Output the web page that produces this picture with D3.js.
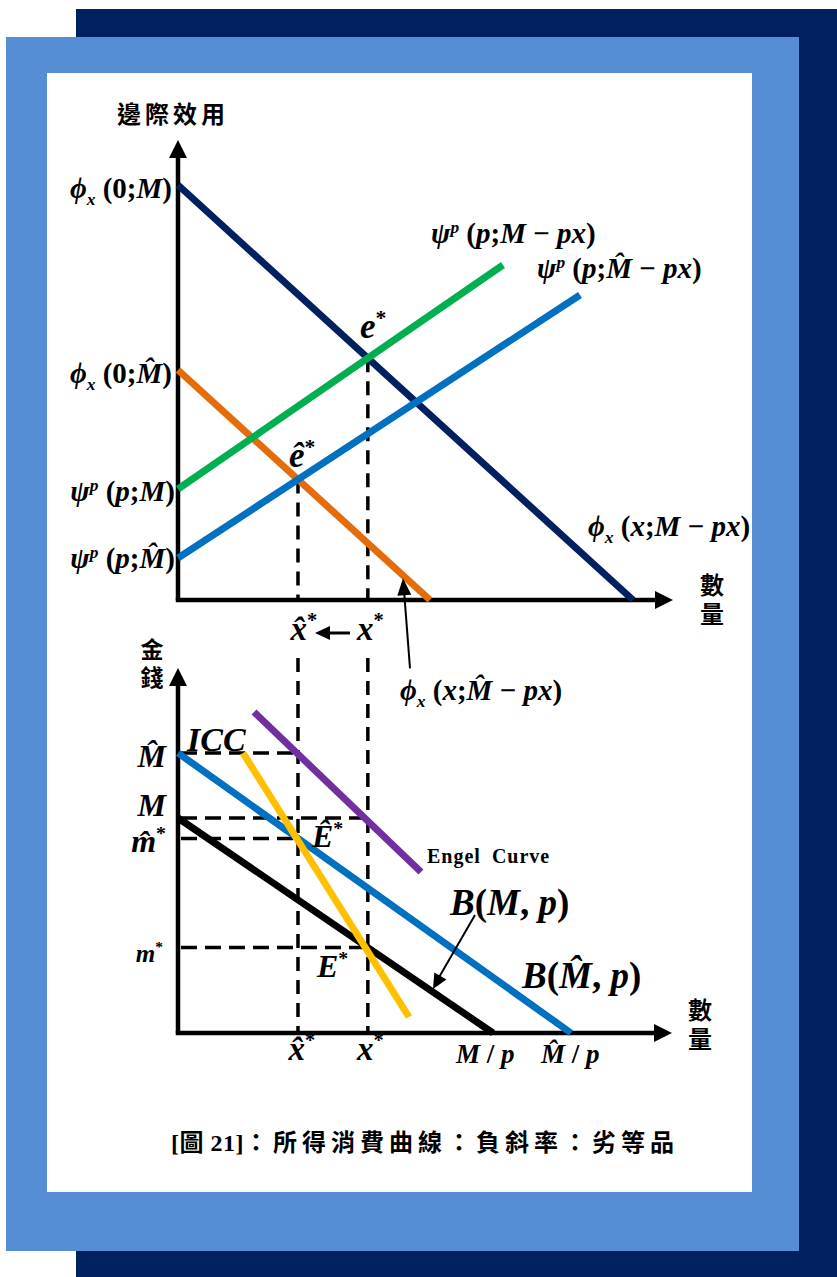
<!DOCTYPE html>
<html>
<head>
<meta charset="utf-8">
<script src="https://cdn.jsdelivr.net/npm/d3@7"></script>
<style>
  html, body { margin: 0; padding: 0; background: #ffffff; }
  svg { display: block; }
</style>
</head>
<body>
<svg id="fig" width="837" height="1277"></svg>
<script>
// ---- Upper panel: marginal utility curves (quantity units, utility units) ----
const topCurveIds   = ["phiM", "phiMhat", "psiM", "psiMhat"];
const topCurveStart = [[0, 83], [0, 46], [0, 22.2], [0, 8.4]];
const topCurveEnd   = [[91, 0], [50.4, 0], [65, 67], [80.4, 61]];

// ---- Lower panel: budget lines, ICC and Engel curve (quantity units, money units) ----
const botCurveIds   = ["budgetM", "budgetMhat", "icc", "engel"];
const botCurveStart = [[0, 43], [0, 56], [13, 56], [15.2, 64.2]];
const botCurveEnd   = [[63, 0], [78.6, 0], [46.2, 3.2], [48.6, 32.2]];

// axis extents (data units)
const topAxisMax = { x: 99, y: 92 };
const botAxisMax = { x: 98.8, y: 73 };

// texts
const captionNumber = "[圖 21]";
const captionText = "：所得消費曲線：負斜率：劣等品";
const topYTitle = "邊際效用";
const qtyTitle = "數量";
const moneyTitle = "金錢";

const COLORS = {
  phiM: "#002060", phiMhat: "#E46C0A", psiM: "#00B050", psiMhat: "#0070C0",
  budgetM: "#000000", budgetMhat: "#0070C0", icc: "#FFC000", engel: "#7030A0"
};

const svg = d3.select("#fig");
const SERIF = "'Liberation Serif', 'Times New Roman', 'DejaVu Serif', serif";
const CJK = "'Noto Sans CJK TC', 'Noto Sans CJK SC', sans-serif";

// ---- frame ----
svg.append("rect").attr("x", 76).attr("y", 9).attr("width", 761).attr("height", 1268).attr("fill", "#002060");
svg.append("rect").attr("x", 6).attr("y", 37).attr("width", 793).attr("height", 1214).attr("fill", "#558ED5");
svg.append("rect").attr("x", 47).attr("y", 73).attr("width", 705).attr("height", 1119).attr("fill", "#ffffff");

// ---- scales ----
const x = d3.scaleLinear().domain([0, 100]).range([178, 678]);
const yTop = d3.scaleLinear().domain([0, 100]).range([600, 100]);
const yBot = d3.scaleLinear().domain([0, 100]).range([1033, 533]);

const line = (ys) => d3.line().x(d => x(d[0])).y(d => ys(d[1]));

function lineAt(p0, p1, xv) {
  return p0[1] + (p1[1] - p0[1]) * (xv - p0[0]) / (p1[0] - p0[0]);
}
function intersect(a0, a1, b0, b1) {
  const ma = (a1[1] - a0[1]) / (a1[0] - a0[0]);
  const mb = (b1[1] - b0[1]) / (b1[0] - b0[0]);
  const ca = a0[1] - ma * a0[0];
  const cb = b0[1] - mb * b0[0];
  const xi = (cb - ca) / (ma - mb);
  return [xi, ca + ma * xi];
}

function arrowHead(g, tip, dir, len, hw, color) {
  const n = Math.hypot(dir[0], dir[1]);
  const ux = dir[0] / n, uy = dir[1] / n;
  const bx = tip[0] - ux * len, by = tip[1] - uy * len;
  const px = -uy * hw, py = ux * hw;
  g.append("path")
    .attr("d", `M${tip[0]},${tip[1]}L${bx + px},${by + py}L${bx - px},${by - py}Z`)
    .attr("fill", color || "#000");
}

function drawAxes(ys, max) {
  const g = svg.append("g");
  g.append("line").attr("x1", x(0)).attr("y1", ys(0)).attr("x2", x(0)).attr("y2", ys(max.y) + 16)
    .attr("stroke", "#000").attr("stroke-width", 4.5);
  arrowHead(g, [x(0), ys(max.y)], [0, -1], 18, 9);
  g.append("line").attr("x1", x(0) - 2.25).attr("y1", ys(0)).attr("x2", x(max.x) - 16).attr("y2", ys(0))
    .attr("stroke", "#000").attr("stroke-width", 4.5);
  arrowHead(g, [x(max.x), ys(0)], [1, 0], 18, 9);
}

// rich text: parts = [text, style] with style 'i' italic, 'r' upright, 'sub', 'sup', 'supi'
function rich(x0, y0, parts, size, anchor) {
  const t = svg.append("text").attr("x", x0).attr("y", y0)
    .attr("font-family", SERIF).attr("font-weight", "bold")
    .attr("font-size", size).attr("text-anchor", anchor || "start").attr("fill", "#000");
  let shift = 0;
  parts.forEach(([s, st]) => {
    const ts = t.append("tspan").text(s);
    let target = 0, fs = size, style = "italic";
    if (st === "r") style = "normal";
    if (st === "sub") { target = size * 0.25; fs = size * 0.6; }
    if (st === "sup") { target = -size * 0.38; fs = size * 0.62; style = "normal"; }
    if (st === "supi") { target = -size * 0.36; fs = size * 0.6; }
    ts.attr("font-style", style).attr("font-size", fs);
    if (Math.abs(target - shift) > 0.01) { ts.attr("dy", target - shift); shift = target; }
  });
  return t;
}

function cjk(x0, y0, s, size, anchor, spacing) {
  return svg.append("text").attr("x", x0).attr("y", y0)
    .attr("font-family", CJK).attr("font-weight", "bold").attr("font-size", size)
    .attr("letter-spacing", spacing || 0)
    .attr("text-anchor", anchor || "middle").attr("fill", "#000").text(s);
}
// vertical two-character axis title, centred at (cx, cy)
function cjkVertical(cx, cy, s, size, spacing) {
  return svg.append("text").attr("x", cx).attr("y", cy)
    .attr("font-family", CJK).attr("font-weight", "bold").attr("font-size", size)
    .attr("writing-mode", "vertical-rl").style("writing-mode", "vertical-rl")
    .attr("letter-spacing", spacing || 0)
    .attr("text-anchor", "middle").attr("fill", "#000").text(s);
}

// ---- key points ----
const eStar = intersect(topCurveStart[0], topCurveEnd[0], topCurveStart[2], topCurveEnd[2]);
const eHatStar = intersect(topCurveStart[1], topCurveEnd[1], topCurveStart[3], topCurveEnd[3]);
const xStar = eStar[0], xHatStar = eHatStar[0];
const mStar = lineAt(botCurveStart[0], botCurveEnd[0], xStar);
const mHatStar = lineAt(botCurveStart[1], botCurveEnd[1], xHatStar);
const incomeM = botCurveStart[0][1], incomeMhat = botCurveStart[1][1];

const dashStyle = (sel) => sel.attr("stroke", "#000").attr("stroke-width", 3.5).attr("stroke-dasharray", "14,9");

// ---- dashed guides ----
const guides = svg.append("g");
[[eStar, xStar], [eHatStar, xHatStar]].forEach(([pt, xv]) => {
  guides.append("line").attr("x1", x(xv)).attr("x2", x(xv)).attr("y1", yTop(pt[1])).attr("y2", yTop(0)).call(dashStyle);
  guides.append("line").attr("x1", x(xv)).attr("x2", x(xv)).attr("y1", yBot(75)).attr("y2", yBot(0)).call(dashStyle);
});
[[incomeMhat, xHatStar], [incomeM, xStar], [mHatStar, xHatStar], [mStar, xStar]].forEach(([lv, xv]) => {
  guides.append("line").attr("x1", x(0) + 3).attr("x2", x(xv)).attr("y1", yBot(lv)).attr("y2", yBot(lv))
    .attr("stroke", "#000").attr("stroke-width", 3.5).attr("stroke-dasharray", "16,8");
});

// ---- axes ----
drawAxes(yTop, topAxisMax);
drawAxes(yBot, botAxisMax);

// ---- curves ----
topCurveIds.forEach((id, i) => {
  svg.append("path").datum([topCurveStart[i], topCurveEnd[i]]).attr("d", line(yTop))
    .attr("fill", "none").attr("stroke", COLORS[id]).attr("stroke-width", 7);
});
botCurveIds.forEach((id, i) => {
  svg.append("path").datum([botCurveStart[i], botCurveEnd[i]]).attr("d", line(yBot))
    .attr("fill", "none").attr("stroke", COLORS[id]).attr("stroke-width", 7);
});

// ---- pointer arrows ----
{
  const tipX = 45;
  const tip = [x(tipX), yTop(lineAt(topCurveStart[1], topCurveEnd[1], tipX)) + 3];
  const tail = [tip[0] + 7, tip[1] + 90];
  svg.append("line").attr("x1", tail[0]).attr("y1", tail[1]).attr("x2", tip[0] + 1).attr("y2", tip[1] + 12)
    .attr("stroke", "#000").attr("stroke-width", 2);
  arrowHead(svg, tip, [tip[0] - tail[0], tip[1] - tail[1]], 17, 7);
}
{
  const tipX = 51;
  const tip = [x(tipX), yBot(lineAt(botCurveStart[0], botCurveEnd[0], tipX)) - 3];
  const tail = [tip[0] + 42, tip[1] - 74];
  svg.append("line").attr("x1", tail[0]).attr("y1", tail[1]).attr("x2", tip[0] + 5).attr("y2", tip[1] - 10)
    .attr("stroke", "#000").attr("stroke-width", 2);
  arrowHead(svg, tip, [tip[0] - tail[0], tip[1] - tail[1]], 15, 7);
}
// x* -> x̂* shift arrow
svg.append("line").attr("x1", 350).attr("y1", 633).attr("x2", 328).attr("y2", 633).attr("stroke", "#000").attr("stroke-width", 3);
arrowHead(svg, [315, 633], [-1, 0], 15, 7);

// ---- upper panel labels ----
cjk(173, 123, topYTitle, 24, "middle", 4);
const MH = "M\u0302";
const PHI = "\u03D5";
const LS = 29;
rich(172, yTop(topCurveStart[0][1]) + 13, [[PHI, "i"], ["x", "sub"], [" (", "r"], ["0;", "r"], ["M", "i"], [")", "r"]], LS, "end");
rich(172, yTop(topCurveStart[1][1]) + 13, [[PHI, "i"], ["x", "sub"], [" (", "r"], ["0;", "r"], [MH, "i"], [")", "r"]], LS, "end");
rich(175, yTop(topCurveStart[2][1]) + 12, [["ψ", "i"], ["p", "supi"], ["  (", "r"], ["p", "i"], [";", "r"], ["M", "i"], [")", "r"]], LS, "end");
rich(175, yTop(topCurveStart[3][1]) + 10, [["ψ", "i"], ["p", "supi"], ["  (", "r"], ["p", "i"], [";", "r"], [MH, "i"], [")", "r"]], LS, "end");
rich(431, 243, [["ψ", "i"], ["p", "supi"], [" (", "r"], ["p", "i"], [";", "r"], ["M", "i"], [" − ", "r"], ["px", "i"], [")", "r"]], LS);
rich(537, 278, [["ψ", "i"], ["p", "supi"], [" (", "r"], ["p", "i"], [";", "r"], [MH, "i"], [" − ", "r"], ["px", "i"], [")", "r"]], LS);
rich(588, 536, [[PHI, "i"], ["x", "sub"], [" (", "r"], ["x", "i"], [";", "r"], ["M", "i"], [" − ", "r"], ["px", "i"], [")", "r"]], LS);
rich(400, 700, [[PHI, "i"], ["x", "sub"], [" (", "r"], ["x", "i"], [";", "r"], [MH, "i"], [" − ", "r"], ["px", "i"], [")", "r"]], LS);
rich(360, 338, [["e", "i"], ["*", "sup"]], 35);
rich(289, 467, [["ê", "i"], ["*", "sup"]], 35);
cjkVertical(712, 602, qtyTitle, 24, 5);
rich(x(xHatStar) + 6, 640, [["x\u0302", "i"], ["*", "sup"]], 33, "middle");
rich(357, 640, [["x", "i"], ["*", "sup"]], 33);

// ---- lower panel labels ----
cjkVertical(152, 666, moneyTitle, 23, 5);
rich(166, yBot(incomeMhat) + 14, [[MH, "i"]], 32, "end");
rich(166, yBot(incomeM) - 2, [["M", "i"]], 32, "end");
rich(166, yBot(mHatStar) + 14, [["m\u0302", "i"], ["*", "sup"]], 32, "end");
rich(163, yBot(mStar) + 14, [["m", "i"], ["*", "sup"]], 25, "end");
rich(187, 751, [["ICC", "i"]], 34);
rich(312, 847, [["Ê", "i"], ["*", "sup"]], 32);
rich(317, 977, [["E", "i"], ["*", "sup"]], 32);
svg.append("text").attr("x", 427).attr("y", 863).attr("font-family", SERIF).attr("font-weight", "bold")
  .attr("font-size", 20).attr("letter-spacing", 1).attr("word-spacing", 5).text("Engel Curve");
rich(450, 915, [["B", "i"], ["(", "r"], ["M", "i"], [", ", "r"], ["p", "i"], [")", "r"]], 37);
rich(522, 988, [["B", "i"], ["(", "r"], [MH, "i"], [", ", "r"], ["p", "i"], [")", "r"]], 37);
cjkVertical(700, 1027, qtyTitle, 24, 5);
rich(x(xHatStar) + 4, 1060, [["x\u0302", "i"], ["*", "sup"]], 33, "middle");
rich(357, 1060, [["x", "i"], ["*", "sup"]], 33);
rich(456, 1063, [["M", "i"], [" / ", "r"], ["p", "i"]], 27);
rich(541, 1063, [[MH, "i"], [" / ", "r"], ["p", "i"]], 27);

// ---- caption ----
{
  const cap = svg.append("text").attr("x", 425).attr("y", 1151)
    .attr("font-family", "'Liberation Serif', 'Noto Sans CJK TC', serif").attr("font-weight", "bold")
    .attr("font-size", 24).attr("text-anchor", "middle");
  cap.append("tspan").attr("letter-spacing", 0.5).text(captionNumber);
  cap.append("tspan").attr("letter-spacing", 5).text(captionText);
}
</script>
</body>
</html>
